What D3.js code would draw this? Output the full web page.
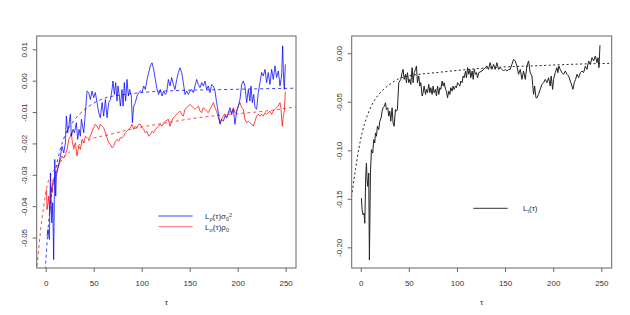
<!DOCTYPE html>
<html><head><meta charset="utf-8">
<script src="https://cdn.jsdelivr.net/npm/d3@7"></script>
<style>
html,body{margin:0;padding:0;background:#fff;}
svg{display:block;font-family:"Liberation Sans",Arial,Helvetica,sans-serif;}
</style></head><body>
<svg id="chart" width="630" height="315"></svg>
<script>
// ---------- data ----------
const xTicks = [0, 50, 100, 150, 200, 250];
const leftYTicks = [0.01, 0.00, -0.01, -0.02, -0.03, -0.04, -0.05];
const leftYLabels = ["0.01", "0.00", "-0.01", "-0.02", "-0.03", "-0.04", "-0.05"];
const rightYTicks = [0.00, -0.05, -0.10, -0.15, -0.20];
const rightYLabels = ["0.00", "-0.05", "-0.10", "-0.15", "-0.20"];

// Blue series  L_rho(tau) sigma0^2
const blueTau = [1.4,2.4,3.8,4.9,6.3,7.3,8.3,9.4,10.4,11.1,12.5,13.9,15.3,17.0,18.8,20.5,21.5,22.9,24.0,25.7,26.7,28.5,29.9,31.9,33.3,34.7,36.1,37.2,39.6,41.3,43.1,44.8,46.5,48.3,50.0,51.7,53.5,55.2,56.9,58.7,60.4,62.2,63.9,65.6,67.4,69.1,70.1,71.5,72.9,74.3,75.3,76.7,77.8,79.5,80.6,81.9,83.3,84.7,86.1,87.5,89.2,90.3,91.7,93.4,95.1,96.9,98.6,100.3,102.1,103.8,105.6,107.3,109.0,110.8,112.5,114.2,116.0,117.7,119.4,121.2,122.9,124.7,126.0,127.8,129.5,131.25,133.0,134.7,136.5,138.2,139.9,141.7,143.4,145.1,146.9,148.6,150.3,152.1,153.8,155.6,157.3,159.0,160.8,162.5,164.2,166.0,167.7,169.4,171.2,172.9,174.7,176.4,178.1,179.9,181.6,183.3,185.1,186.8,188.5,190.3,192.0,193.75,195.5,197.2,199.0,200.7,202.4,204.2,205.9,207.6,209.4,211.1,212.8,213.9,215.3,216.7,218.1,219.8,221.5,223.3,225.0,226.7,228.5,230.2,231.9,233.7,235.4,237.15,238.9,240.6,242.4,244.1,245.8,246.9,247.9,248.6,249.7];
const blueVal = [-0.0496,-0.0474,-0.0506,-0.0294,-0.0453,-0.0389,-0.0570,-0.0251,-0.0368,-0.0304,-0.0283,-0.0262,-0.0240,-0.0209,-0.0230,-0.0198,-0.0113,-0.0166,-0.0145,-0.0107,-0.0177,-0.0155,-0.0166,-0.0134,-0.0187,-0.0155,-0.0177,-0.0123,-0.0166,-0.0102,-0.0033,-0.0038,-0.0060,-0.0033,-0.0054,-0.0038,-0.0070,-0.0102,-0.0118,-0.0070,-0.0113,-0.0060,-0.0118,-0.0070,-0.0060,-0.0028,-0.0001,-0.0044,-0.0006,-0.0065,-0.0017,-0.0049,-0.0081,-0.0028,-0.0081,-0.0006,-0.0065,0.0004,-0.0049,-0.0028,-0.0049,-0.0134,-0.0081,-0.0070,-0.0049,-0.0038,-0.0033,-0.0038,-0.0017,-0.0028,0.0004,0.0026,0.0047,0.0057,0.0036,0.0004,-0.0028,-0.0044,-0.0028,-0.0049,-0.0033,-0.0044,-0.0038,0.0004,-0.0017,0.0010,-0.0012,-0.0028,0.0004,0.0026,0.0041,0.0026,-0.0006,-0.0044,-0.0033,-0.0044,-0.0033,-0.0028,-0.0038,-0.0017,0.0004,-0.0012,-0.0022,-0.0006,-0.0017,-0.0001,-0.0028,-0.0017,-0.0038,-0.0012,-0.0017,-0.0033,-0.0070,-0.0102,-0.0139,-0.0123,-0.0129,-0.0113,-0.0118,-0.0102,-0.0086,-0.0107,-0.0091,-0.0139,-0.0097,-0.0081,-0.0060,-0.0012,-0.0001,-0.0017,-0.0070,-0.0028,-0.0065,-0.0017,-0.0070,-0.0044,-0.0086,-0.0091,-0.0038,-0.0006,0.0026,0.0015,0.0036,-0.0006,0.0026,-0.0012,0.0036,0.0004,0.0047,0.0010,0.0031,-0.0017,0.0015,0.0111,0.0004,-0.0028,0.0052];

// Red series  L_sigma(tau) rho0
const redTau = [0.7,1.4,2.4,3.1,4.2,5.6,6.6,7.6,9.0,10.1,11.8,13.5,15.3,17.0,18.75,20.5,22.2,24.0,25.7,26.7,27.8,29.2,30.9,32.6,34.4,36.1,37.8,39.6,41.3,43.1,44.8,46.5,48.3,50.0,51.7,53.5,55.2,56.9,58.7,60.4,62.2,63.9,65.6,67.4,69.1,70.8,72.6,74.3,76.0,77.8,79.5,81.25,83.0,84.7,86.5,88.2,89.9,91.7,93.4,95.1,96.9,98.6,100.3,102.1,103.8,105.6,107.3,109.0,110.8,112.5,114.2,116.0,117.7,119.4,121.2,122.9,124.7,127.8,129.5,131.25,133.0,134.7,136.5,138.2,139.9,141.7,143.4,145.1,146.9,148.6,150.3,152.1,153.8,155.6,157.3,159.0,160.8,162.5,164.2,166.0,167.7,169.4,171.2,172.9,174.7,176.4,178.1,179.9,181.6,183.3,185.1,186.8,188.5,190.3,192.0,193.75,195.5,197.2,199.0,200.7,202.4,204.2,205.9,207.6,209.4,211.1,212.8,214.6,216.3,218.1,219.8,221.5,223.3,225.0,226.7,228.5,230.2,231.9,233.7,235.4,237.15,238.9,240.6,242.4,244.1,245.1,246.5,247.6,248.6,249.7];
const redVal = [-0.0347,-0.0411,-0.0389,-0.0368,-0.0421,-0.0336,-0.0357,-0.0315,-0.0326,-0.0304,-0.0283,-0.0272,-0.0251,-0.0240,-0.0246,-0.0235,-0.0219,-0.0187,-0.0177,-0.0166,-0.0198,-0.0214,-0.0198,-0.0240,-0.0209,-0.0219,-0.0187,-0.0198,-0.0177,-0.0182,-0.0187,-0.0177,-0.0161,-0.0150,-0.0139,-0.0145,-0.0155,-0.0139,-0.0145,-0.0150,-0.0166,-0.0182,-0.0198,-0.0203,-0.0214,-0.0209,-0.0193,-0.0187,-0.0193,-0.0182,-0.0182,-0.0177,-0.0166,-0.0161,-0.0155,-0.0150,-0.0139,-0.0155,-0.0145,-0.0150,-0.0139,-0.0139,-0.0150,-0.0155,-0.0166,-0.0161,-0.0177,-0.0171,-0.0161,-0.0166,-0.0155,-0.0150,-0.0145,-0.0139,-0.0145,-0.0134,-0.0129,-0.0123,-0.0145,-0.0129,-0.0118,-0.0113,-0.0107,-0.0102,-0.0097,-0.0107,-0.0113,-0.0091,-0.0086,-0.0081,-0.0076,-0.0081,-0.0086,-0.0091,-0.0086,-0.0081,-0.0097,-0.0102,-0.0086,-0.0091,-0.0097,-0.0102,-0.0091,-0.0081,-0.0070,-0.0086,-0.0097,-0.0118,-0.0134,-0.0123,-0.0113,-0.0107,-0.0118,-0.0107,-0.0097,-0.0102,-0.0086,-0.0102,-0.0097,-0.0081,-0.0070,-0.0086,-0.0091,-0.0123,-0.0134,-0.0129,-0.0134,-0.0139,-0.0145,-0.0129,-0.0113,-0.0107,-0.0113,-0.0107,-0.0113,-0.0102,-0.0107,-0.0102,-0.0097,-0.0107,-0.0097,-0.0091,-0.0086,-0.0081,-0.0070,-0.0086,-0.0145,-0.0113,-0.0097,-0.0035];

// Fitted (dashed) curves, left panel
const blueFitTau = [-1.5,0,2,5,10,15,20,30,44,60,80,100,130,175,220,261];
const blueFitVal = [-0.064,-0.058,-0.049,-0.039,-0.029,-0.022,-0.0175,-0.0125,-0.0084,-0.0057,-0.0045,-0.0038,-0.0032,-0.0029,-0.0026,-0.0024];
const redFitTau = [-9.6,-9.0,-5.6,-2.1,1.4,6.6,11.8,18.75,32.6,46.5,67.4,88.2,126.4,159.0,193.75,228.5,261.5];
const redFitVal = [-0.061,-0.0591,-0.0485,-0.0400,-0.0336,-0.0294,-0.0272,-0.0246,-0.0209,-0.0187,-0.0171,-0.0155,-0.0134,-0.0118,-0.0107,-0.0097,-0.0083];

// Right panel: L_t(tau)
const blackTau = [0.7,1.4,2.4,3.5,4.2,5.2,5.9,6.6,7.3,8.3,9.0,10.1,11.1,12.5,13.5,14.6,15.3,16.3,17.3,18.7,19.8,21.2,22.2,23.2,24.6,25.7,26.7,28.1,29.1,30.2,31.2,32.6,33.6,34.7,36.1,37.1,38.1,39.5,40.6,41.6,43.0,44.0,45.1,46.5,47.5,48.5,49.9,51.0,52.0,53.4,54.4,55.5,56.9,57.9,58.9,60.3,61.4,62.4,63.8,64.8,65.9,67.3,68.3,69.3,70.7,71.8,72.8,74.2,75.2,76.3,77.7,78.7,79.8,81.1,82.2,83.2,84.6,85.6,86.7,88.1,89.1,90.2,91.5,92.6,93.6,95.0,96.0,97.1,98.5,99.5,100.6,101.9,103.0,104.0,105.4,106.4,107.5,108.9,109.9,111.0,112.3,113.4,114.4,115.8,116.9,117.9,119.3,120.3,121.4,122.7,125.9,127.6,129.3,131.1,132.8,134.5,136.3,138.0,139.7,141.5,143.2,144.9,146.7,148.4,150.1,151.9,153.6,155.3,157.1,158.8,160.5,162.3,164.0,165.8,167.5,169.2,171.0,172.7,174.4,176.1,177.9,179.6,180.7,182.1,183.1,184.8,186.5,188.3,190.0,191.7,193.5,195.2,196.9,197.9,199.4,200.4,202.1,203.9,204.9,205.9,207.3,209.1,210.8,212.6,214.3,216.0,217.8,219.5,220.5,221.9,223.3,224.7,226.4,228.2,229.9,231.6,233.4,235.1,236.8,238.6,240.3,242.0,243.8,245.5,246.5,247.6,248.6];
const blackVal = [-0.1493,-0.1614,-0.1666,-0.1648,-0.1752,-0.1269,-0.1131,-0.1303,-0.1372,-0.1234,-0.2131,-0.1234,-0.0993,-0.1028,-0.0890,-0.0924,-0.0821,-0.0855,-0.0752,-0.0786,-0.0700,-0.0666,-0.0597,-0.0562,-0.0545,-0.0510,-0.0579,-0.0562,-0.0648,-0.0597,-0.0700,-0.0562,-0.0717,-0.0752,-0.0579,-0.0597,-0.0579,-0.0303,-0.0286,-0.0269,-0.0200,-0.0166,-0.0269,-0.0217,-0.0303,-0.0200,-0.0303,-0.0269,-0.0321,-0.0148,-0.0303,-0.0200,-0.0166,-0.0131,-0.0303,-0.0234,-0.0338,-0.0303,-0.0441,-0.0407,-0.0338,-0.0424,-0.0372,-0.0407,-0.0321,-0.0407,-0.0355,-0.0424,-0.0338,-0.0407,-0.0372,-0.0441,-0.0338,-0.0424,-0.0355,-0.0372,-0.0286,-0.0338,-0.0303,-0.0372,-0.0390,-0.0459,-0.0390,-0.0424,-0.0355,-0.0390,-0.0338,-0.0372,-0.0338,-0.0355,-0.0303,-0.0321,-0.0338,-0.0286,-0.0303,-0.0234,-0.0252,-0.0183,-0.0252,-0.0148,-0.0217,-0.0166,-0.0252,-0.0183,-0.0269,-0.0166,-0.0217,-0.0200,-0.0252,-0.0200,-0.0183,-0.0166,-0.0148,-0.0131,-0.0166,-0.0097,-0.0166,-0.0114,-0.0166,-0.0097,-0.0166,-0.0148,-0.0166,-0.0183,-0.0166,-0.0183,-0.0166,-0.0166,-0.0114,-0.0062,-0.0079,-0.0131,-0.0217,-0.0166,-0.0269,-0.0183,-0.0269,-0.0131,-0.0079,-0.0200,-0.0234,-0.0424,-0.0338,-0.0459,-0.0459,-0.0424,-0.0372,-0.0321,-0.0303,-0.0269,-0.0303,-0.0252,-0.0338,-0.0234,-0.0372,-0.0269,-0.0200,-0.0148,-0.0200,-0.0131,-0.0166,-0.0200,-0.0217,-0.0183,-0.0217,-0.0234,-0.0286,-0.0338,-0.0372,-0.0303,-0.0269,-0.0217,-0.0252,-0.0200,-0.0183,-0.0200,-0.0131,-0.0166,-0.0079,-0.0114,-0.0045,-0.0079,-0.0028,-0.0097,-0.0045,-0.0148,0.0083];
const blackFitTau = [-9.6,-5.5,-2.1,1.4,6.6,11.8,18.7,25.7,32.6,39.5,53.4,77.7,105.4,126,155,176,224.7,261];
const blackFitVal = [-0.148,-0.120,-0.099,-0.082,-0.0648,-0.0528,-0.0424,-0.0355,-0.0303,-0.0262,-0.0228,-0.0200,-0.0172,-0.0155,-0.0138,-0.0131,-0.0112,-0.0103];

// ---------- drawing ----------
const svg = d3.select("#chart");
const axisColor = "#666";
const textColor = "#333";
const fontSize = 8;

function zip(t, v) { return t.map((d, i) => ({ t: d, v: v[i] })); }

function panel(opts) {
  const { id, x0, x1, y0, y1, yDomain, yTicks, yLabels } = opts;
  const x = d3.scaleLinear().domain([-9.4, 260.8]).range([x0, x1]);
  const y = d3.scaleLinear().domain(yDomain).range([y1, y0]);
  const g = svg.append("g");

  g.append("clipPath").attr("id", "clip" + id)
    .append("rect").attr("x", x0).attr("y", y0).attr("width", x1 - x0).attr("height", y1 - y0);

  // x axis
  const xa = g.append("g").attr("transform", `translate(0,${y1})`)
    .call(d3.axisBottom(x).tickValues(xTicks).tickSize(4).tickFormat(d3.format("d")));
  xa.select(".domain").remove();
  xa.selectAll(".tick line").attr("stroke", axisColor);
  xa.selectAll(".tick text").attr("fill", textColor).attr("font-size", fontSize)
    .attr("y", 15).attr("dy", "0.35em").attr("font-family", "Liberation Sans, Arial, sans-serif");

  // y axis
  const ya = g.append("g").attr("transform", `translate(${x0},0)`)
    .call(d3.axisLeft(y).tickValues(yTicks).tickSize(4).tickFormat((d, i) => yLabels[i]));
  ya.select(".domain").remove();
  ya.selectAll(".tick line").attr("stroke", axisColor);
  ya.selectAll(".tick text").attr("fill", textColor).attr("font-size", fontSize)
    .attr("font-family", "Liberation Sans, Arial, sans-serif")
    .attr("x", null).attr("dy", null)
    .attr("text-anchor", "middle")
    .attr("transform", "translate(-12.7,0) rotate(-90)")
    .attr("dy", "0.35em");

  // axis title
  g.append("text").attr("x", (x0 + x1) / 2).attr("y", 302.5)
    .attr("text-anchor", "middle").attr("dy", "0.35em")
    .attr("font-size", fontSize).attr("fill", textColor).text("τ");

  const plot = g.append("g").attr("clip-path", `url(#clip${id})`);
  return { g, plot, x, y };
}

function drawLine(p, data, color, dash, width, curve) {
  const line = d3.line().x(d => p.x(d.t)).y(d => p.y(d.v)).curve(curve || d3.curveLinear);
  p.plot.append("path").datum(data).attr("d", line)
    .attr("fill", "none").attr("stroke", color).attr("stroke-width", width || 1)
    .attr("stroke-dasharray", dash || null).attr("stroke-linejoin", "round");
}

// Left panel
const L = panel({ id: "L", x0: 36.7, x1: 296, y0: 36, y1: 268,
  yDomain: [-0.0597, 0.01424], yTicks: leftYTicks, yLabels: leftYLabels });
const blueC = "rgba(0,0,255,0.75)";
const redC = "rgba(255,0,0,0.72)";
drawLine(L, zip(redTau, redVal), redC, null, 1);
drawLine(L, zip(blueTau, blueVal), blueC, null, 1);
drawLine(L, zip(blueFitTau, blueFitVal), blueC, "3,3", 1, d3.curveMonotoneX);
drawLine(L, zip(redFitTau, redFitVal), redC, "3,3", 1, d3.curveMonotoneX);
L.g.append("rect").attr("x", 36.7).attr("y", 36).attr("width", 296 - 36.7).attr("height", 232)
  .attr("fill", "none").attr("stroke", axisColor).attr("stroke-width", 1);

// Right panel
const R = panel({ id: "R", x0: 351.7, x1: 611.7, y0: 36, y1: 268,
  yDomain: [-0.2213, 0.0178], yTicks: rightYTicks, yLabels: rightYLabels });
drawLine(R, zip(blackTau, blackVal), "#222", null, 1);
drawLine(R, zip(blackFitTau, blackFitVal), "#222", "2,2.5", 1, d3.curveMonotoneX);
R.g.append("rect").attr("x", 351.7).attr("y", 36).attr("width", 611.7 - 351.7).attr("height", 232)
  .attr("fill", "none").attr("stroke", axisColor).attr("stroke-width", 1);

// Legends
function legendText(sel, x, y, parts) {
  const t = sel.append("text").attr("x", x).attr("y", y).attr("dy", "0.35em")
    .attr("font-size", fontSize).attr("fill", textColor);
  parts.forEach(p => {
    const ts = t.append("tspan").text(p.s);
    if (p.sub) ts.attr("font-size", 5.5).attr("baseline-shift", "-25%");
    if (p.sup) ts.attr("font-size", 5.5).attr("baseline-shift", "40%");
  });
}
const lg = svg.append("g");
lg.append("line").attr("x1", 158.3).attr("x2", 192.7).attr("y1", 216).attr("y2", 216)
  .attr("stroke", blueC).attr("stroke-width", 1);
lg.append("line").attr("x1", 158.3).attr("x2", 192.7).attr("y1", 226.7).attr("y2", 226.7)
  .attr("stroke", "rgba(255,0,0,0.45)").attr("stroke-width", 1.3);
legendText(lg, 205, 216, [{ s: "L" }, { s: "ρ", sub: true }, { s: "(τ)σ" }, { s: "0", sub: true }, { s: "2", sup: true }]);
legendText(lg, 205, 226.7, [{ s: "L" }, { s: "σ", sub: true }, { s: "(τ)ρ" }, { s: "0", sub: true }]);

lg.append("line").attr("x1", 473.3).attr("x2", 507.7).attr("y1", 208.3).attr("y2", 208.3)
  .attr("stroke", "#333").attr("stroke-width", 1);
legendText(lg, 523, 208.3, [{ s: "L" }, { s: "t", sub: true }, { s: "(τ)" }]);
</script>
</body></html>
